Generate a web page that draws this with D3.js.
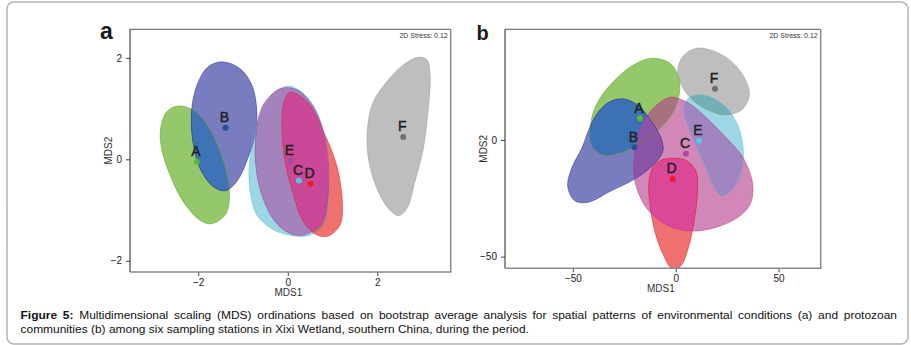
<!DOCTYPE html>
<html>
<head>
<meta charset="utf-8">
<script src="https://cdn.jsdelivr.net/npm/d3@7"></script>
<style>
  body { margin: 0; background: #fff; }
  text { font-family: "Liberation Sans", Arial, sans-serif; }
</style>
</head>
<body>
<svg id="fig" width="911" height="345"></svg>
<script>
// Station labels
const stations = ['A', 'B', 'C', 'D', 'E', 'F'];

// Panel a: environmental conditions, MDS centroids
const envX = [-2.03, -1.39, 0.25, 0.51, 0.06, 2.58];
const envY = [-0.05, 0.62, -0.42, -0.48, -0.03, 0.44];
const envColors = ['#4da307', '#1f2794', '#58bcd2', '#e61111', '#b4378a', '#939393'];
const envPointColors = ['#5cb83a', '#2b4f9e', '#5cc4e0', '#ee1c25', '#a24c9c', '#707070'];
// drawing order of the regions (later ones lie on top)
const envOrder = [0, 1, 5, 2, 3, 4];
// tint seen where two regions overlap: [lower, upper, colour]
const envOverlaps = [[0, 1, '#3e73b6'], [2, 4, '#a283bd'], [3, 4, '#cb4797']];

// Panel a: bootstrap regions (outline points, MDS1/MDS2 units)
const envRegions = [
  [[-2.445,1.05],[-2.11,0.97],[-1.81,0.68],[-1.55,0.22],[-1.36,-0.31],[-1.30,-0.77],[-1.40,-1.10],[-1.70,-1.27],[-1.96,-1.20],[-2.33,-0.84],[-2.63,-0.31],[-2.82,0.22],[-2.84,0.61],[-2.70,0.94]],
  [[-1.44,1.92],[-1.07,1.79],[-0.80,1.46],[-0.69,0.94],[-0.73,0.48],[-0.92,-0.05],[-1.14,-0.44],[-1.40,-0.62],[-1.66,-0.54],[-1.96,-0.18],[-2.12,0.35],[-2.15,0.94],[-2.03,1.46],[-1.77,1.83]],
  [[0.05,1.44],[0.35,1.30],[0.65,0.94],[0.83,0.41],[0.91,-0.18],[0.91,-0.84],[0.80,-1.29],[0.50,-1.49],[0.13,-1.51],[-0.32,-1.39],[-0.69,-1.10],[-0.84,-0.64],[-0.86,-0.11],[-0.77,0.35],[-0.62,0.87],[-0.36,1.27],[-0.13,1.41]],
  [[0.05,1.32],[0.42,1.14],[0.80,0.54],[1.09,-0.11],[1.22,-0.84],[1.17,-1.29],[0.91,-1.51],[0.65,-1.49],[0.35,-1.23],[0.13,-0.70],[-0.06,-0.05],[-0.13,0.68],[-0.08,1.14]],
  [[-0.17,1.39],[0.20,1.37],[0.54,1.07],[0.80,0.54],[0.91,-0.11],[0.88,-0.84],[0.72,-1.29],[0.35,-1.49],[0.05,-1.46],[-0.28,-1.23],[-0.58,-0.70],[-0.72,-0.05],[-0.69,0.61],[-0.55,1.07]],
  [[2.92,2.01],[3.11,1.96],[3.18,1.66],[3.14,1.00],[3.03,0.22],[2.84,-0.44],[2.66,-0.97],[2.47,-1.11],[2.25,-0.97],[1.99,-0.57],[1.80,0.02],[1.78,0.61],[1.91,1.13],[2.21,1.53],[2.58,1.86]]
];

// Panel b: protozoan communities, MDS centroids
const protoX = [-17.4, -20.1, 5.0, -1.5, 11.3, 19.1];
const protoY = [9.3, -3.1, -5.9, -16.7, -0.4, 21.9];
const protoColors = ['#4da307', '#1f2794', '#b4378a', '#e61111', '#58bcd2', '#939393'];
const protoPointColors = ['#5cb83a', '#2b4f9e', '#b04a9a', '#ee1c25', '#5cc8e8', '#707070'];
const protoOrder = [0, 1, 5, 4, 3, 2];
const protoOverlaps = [[0, 1, '#3c72b5'], [5, 4, '#72b0b6'], [1, 2, '#8a55a6'], [4, 2, '#a085c0'], [3, 2, '#dc4898']];

// Panel b: bootstrap regions
const protoRegions = [
  [[-11.7,35.0],[-2.8,32.9],[1.3,27.1],[1.8,20.0],[-1.2,12.1],[-7.6,5.0],[-15.8,-0.7],[-25.5,-5.0],[-35.2,-6.4],[-40.9,-2.1],[-40.9,9.3],[-36.8,17.9],[-28.7,26.4],[-20.6,32.1]],
  [[-25.5,17.6],[-18.2,14.7],[-11.7,7.8],[-6.8,0],[-6.3,-5.0],[-10.9,-10.7],[-20.6,-17.1],[-32.0,-22.1],[-42.5,-26.7],[-49.0,-26.1],[-52.5,-20.0],[-50.6,-12.1],[-45.7,-3.6],[-41.3,6.4],[-36.8,12.9],[-32.0,16.4]],
  [[-2.8,18.3],[5.3,16.2],[13.4,10.7],[23.2,2.1],[32.9,-7.8],[37.5,-19.3],[36.1,-27.8],[29.7,-33.5],[18.3,-37.8],[7.0,-39.0],[-4.4,-36.4],[-14.1,-29.3],[-19.8,-17.9],[-20.1,-6.4],[-17.4,5.0],[-10.9,13.6]],
  [[-1.2,-7.8],[5.3,-8.9],[9.9,-13.6],[10.5,-23.6],[8.9,-35.0],[6.1,-46.4],[2.1,-54.3],[-1.9,-55.0],[-6.0,-49.3],[-10.1,-39.3],[-12.5,-27.8],[-13.0,-17.9],[-10.9,-11.4],[-6.8,-8.6]],
  [[10.2,19.3],[18.3,17.9],[26.4,12.1],[31.3,3.6],[32.9,-6.4],[31.3,-15.0],[26.4,-22.1],[22.4,-24.0],[19.1,-20.7],[13.4,-9.3],[7.8,2.1],[4.0,12.1],[5.3,17.1]],
  [[10.2,39.3],[19.9,37.6],[28.0,32.9],[33.5,26.5],[35.8,19.3],[32.1,12.9],[24.0,10.7],[16.7,12.4],[9.0,16.5],[3.5,22.3],[1.0,29.5],[3.5,35.8]]
];

// Axis domains and ticks
const envXDomain = [-3.524, 3.64], envYDomain = [-2.221, 2.562];
const envTicks = [-2, 0, 2];
const protoXDomain = [-83.0, 70.5], protoYDomain = [-55.0, 47.4];
const protoXTicks = [-50, 0, 50], protoYTicks = [-50, 0];
const stressText = '2D Stress: 0.12';

const svg = d3.select('#fig');
const defs = svg.append('defs');

// outer frame of the figure box
svg.append('rect')
  .attr('x', 7).attr('y', 2).attr('width', 901).attr('height', 342)
  .attr('rx', 7).attr('fill', 'none').attr('stroke', '#b4b4b4').attr('stroke-width', 1.5);

function drawPanel(opt) {
  const x = d3.scaleLinear().domain(opt.xDomain).range([opt.left, opt.right]);
  const y = d3.scaleLinear().domain(opt.yDomain).range([opt.bottom, opt.top]);
  const g = svg.append('g');

  defs.append('clipPath').attr('id', 'clip-' + opt.id)
    .append('rect')
    .attr('x', opt.left).attr('y', opt.top)
    .attr('width', opt.right - opt.left).attr('height', opt.bottom - opt.top);

  const line = d3.line()
    .x(d => x(d[0])).y(d => y(d[1]))
    .curve(d3.curveCatmullRomClosed.alpha(0.5));

  // one clip path per region, used for the overlap tints
  opt.regions.forEach((r, i) => {
    defs.append('clipPath').attr('id', 'reg-' + opt.id + i)
      .append('path').attr('d', line(r));
  });

  const plot = g.append('g').attr('clip-path', 'url(#clip-' + opt.id + ')');

  plot.selectAll('path.region')
    .data(opt.order)
    .enter().append('path')
    .attr('class', 'region')
    .attr('d', i => line(opt.regions[i]))
    .attr('fill', i => opt.colors[i])
    .attr('fill-opacity', 0.6)
    .attr('stroke', 'none');

  plot.selectAll('path.overlap')
    .data(opt.overlaps)
    .enter().append('path')
    .attr('class', 'overlap')
    .attr('clip-path', d => 'url(#reg-' + opt.id + d[0] + ')')
    .attr('d', d => line(opt.regions[d[1]]))
    .attr('fill', d => d[2]);

  plot.selectAll('path.outline')
    .data(opt.order)
    .enter().append('path')
    .attr('class', 'outline')
    .attr('d', i => line(opt.regions[i]))
    .attr('fill', 'none')
    .attr('stroke', i => opt.colors[i])
    .attr('stroke-opacity', 0.6)
    .attr('stroke-width', 0.8);

  plot.selectAll('circle.pt')
    .data(stations)
    .enter().append('circle')
    .attr('class', 'pt')
    .attr('cx', (d, i) => x(opt.xs[i]))
    .attr('cy', (d, i) => y(opt.ys[i]))
    .attr('r', 3)
    .attr('fill', (d, i) => opt.pointColors[i]);

  plot.selectAll('text.lab')
    .data(stations)
    .enter().append('text')
    .attr('class', 'lab')
    .attr('x', (d, i) => x(opt.xs[i]) - 1)
    .attr('y', (d, i) => y(opt.ys[i]) - 5.5)
    .attr('text-anchor', 'middle')
    .attr('font-size', 14)
    .attr('fill', '#222')
    .attr('stroke', '#222')
    .attr('stroke-width', 0.45)
    .text(d => d);

  // axes
  const xAxis = g.append('g')
    .attr('transform', 'translate(0,' + opt.bottom + ')')
    .call(d3.axisBottom(x).tickValues(opt.xTicks).tickSize(4).tickFormat(d3.format('d')));
  const yAxis = g.append('g')
    .attr('transform', 'translate(' + opt.left + ',0)')
    .call(d3.axisLeft(y).tickValues(opt.yTicks).tickSize(4).tickFormat(d3.format('d')));
  [xAxis, yAxis].forEach(ax => {
    ax.select('.domain').remove();
    ax.selectAll('line').attr('stroke', '#444');
    ax.selectAll('text').attr('font-size', 10).attr('fill', '#222')
      .attr('font-family', '"Liberation Sans", Arial, sans-serif');
  });
  yAxis.selectAll('text').attr('dx', '-0.1em');

  // frame: dark top/left, grey heavier bottom/right
  g.append('line').attr('x1', opt.left).attr('x2', opt.right).attr('y1', opt.top).attr('y2', opt.top)
    .attr('stroke', '#555').attr('stroke-width', 1);
  g.append('line').attr('x1', opt.left).attr('x2', opt.left).attr('y1', opt.top).attr('y2', opt.bottom)
    .attr('stroke', '#222').attr('stroke-width', 1);
  g.append('line').attr('x1', opt.right).attr('x2', opt.right).attr('y1', opt.top).attr('y2', opt.bottom)
    .attr('stroke', '#8a8a8a').attr('stroke-width', 1.5);
  g.append('line').attr('x1', opt.left).attr('x2', opt.right + 0.75).attr('y1', opt.bottom).attr('y2', opt.bottom)
    .attr('stroke', '#8a8a8a').attr('stroke-width', 1.5);

  // stress annotation
  g.append('text')
    .attr('x', opt.right - 3).attr('y', opt.top + 9)
    .attr('text-anchor', 'end').attr('font-size', 7).attr('fill', '#333')
    .text(stressText);

  // axis titles
  g.append('text')
    .attr('x', (opt.left + opt.right) / 2 - 2).attr('y', opt.bottom + 24)
    .attr('text-anchor', 'middle').attr('font-size', 10).attr('fill', '#333')
    .text('MDS1');
  g.append('text')
    .attr('transform', 'translate(' + (opt.left - 18) + ',' + ((opt.top + opt.bottom) / 2) + ') rotate(-90)')
    .attr('text-anchor', 'middle').attr('font-size', 10).attr('fill', '#333')
    .text('MDS2');

  // panel letter
  g.append('text')
    .attr('x', opt.letterX).attr('y', opt.letterY)
    .attr('font-size', opt.letterSize).attr('font-weight', 'bold').attr('fill', '#1a1a1a')
    .text(opt.id);
}

drawPanel({
  id: 'a', left: 130, right: 450.7, top: 29.3, bottom: 272,
  xDomain: envXDomain, yDomain: envYDomain, xTicks: envTicks, yTicks: envTicks,
  xs: envX, ys: envY, regions: envRegions, colors: envColors, pointColors: envPointColors,
  order: envOrder, overlaps: envOverlaps, letterX: 100, letterY: 38.5, letterSize: 23
});

drawPanel({
  id: 'b', left: 505, right: 820.7, top: 29.3, bottom: 268.3,
  xDomain: protoXDomain, yDomain: protoYDomain, xTicks: protoXTicks, yTicks: protoYTicks,
  xs: protoX, ys: protoY, regions: protoRegions, colors: protoColors, pointColors: protoPointColors,
  order: protoOrder, overlaps: protoOverlaps, letterX: 476.5, letterY: 40, letterSize: 20
});

// caption (stretched horizontally like the source image, first line justified)
const cap1Bold = 'Figure 5:';
const cap1 = ' Multidimensional scaling (MDS) ordinations based on bootstrap average analysis for spatial patterns of environmental conditions (a) and protozoan';
const cap2 = 'communities (b) among six sampling stations in Xixi Wetland, southern China, during the period.';
const capLeft = 20.5, capRight = 897, cap2Right = 530;

const capG = svg.append('g');
const t2 = capG.append('text').attr('x', 0).attr('y', 333).attr('font-size', 10).attr('fill', '#111').text(cap2);
const k = (cap2Right - capLeft) / t2.node().getComputedTextLength();
capG.attr('transform', 'translate(' + capLeft + ',0) scale(' + k + ',1)');

const t1 = capG.append('text').attr('x', 0).attr('y', 319).attr('font-size', 10).attr('fill', '#111');
t1.append('tspan').attr('font-weight', 'bold').text(cap1Bold);
t1.append('tspan').text(cap1);
const natural = t1.node().getComputedTextLength();
const spaces = (cap1Bold + cap1).split(' ').length - 1;
t1.attr('word-spacing', ((capRight - capLeft) / k - natural) / spaces);
</script>
</body>
</html>
